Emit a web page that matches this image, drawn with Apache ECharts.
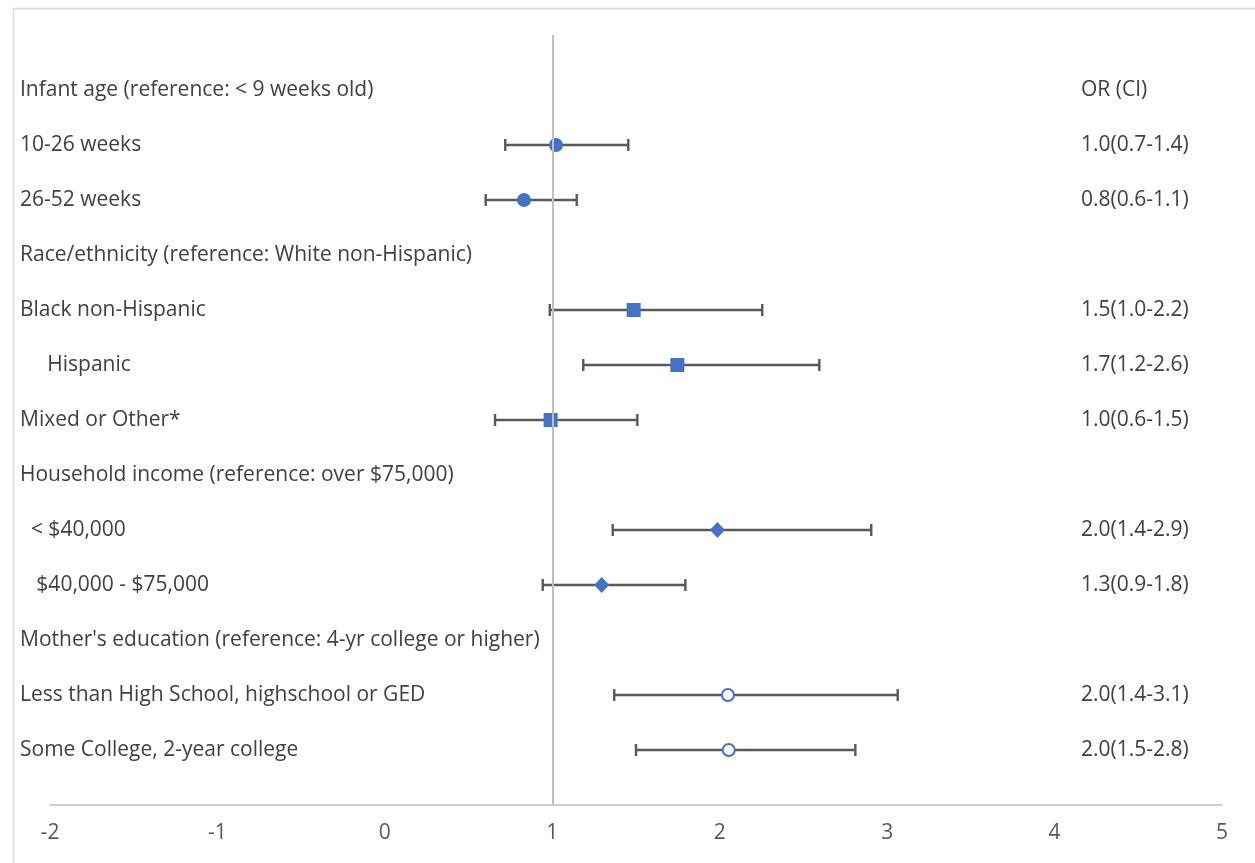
<!DOCTYPE html>
<html><head><meta charset="utf-8">
<script src="https://cdn.jsdelivr.net/npm/echarts@6/dist/echarts.min.js"></script>
<style>html,body{margin:0;padding:0;background:#fff}#c{width:1255px;height:863px}</style>
</head><body><div id="c"></div>
<script>
// Row labels (row 1..13, top to bottom)
const rowLabels = [
  "Infant age (reference: < 9 weeks old)",
  "10-26 weeks",
  "26-52 weeks",
  "Race/ethnicity (reference: White non-Hispanic)",
  "Black non-Hispanic",
  "     Hispanic",
  "Mixed or Other*",
  "Household income (reference: over $75,000)",
  "  < $40,000",
  "   $40,000 - $75,000",
  "Mother's education (reference: 4-yr college or higher)",
  "Less than High School, highschool or GED",
  "Some College, 2-year college"
];
const orLabels = [
  "OR (CI)", "1.0(0.7-1.4)", "0.8(0.6-1.1)", "", "1.5(1.0-2.2)", "1.7(1.2-2.6)",
  "1.0(0.6-1.5)", "", "2.0(1.4-2.9)", "1.3(0.9-1.8)", "", "2.0(1.4-3.1)", "2.0(1.5-2.8)"
];
const xTicks = [-2, -1, 0, 1, 2, 3, 4, 5];

// Estimates: [row, OR, lower, upper]
const ageRows = [[2, 1.022, 0.719, 1.454], [3, 0.831, 0.602, 1.146]];
const raceRows = [[5, 1.486, 0.985, 2.254], [6, 1.747, 1.185, 2.595], [7, 0.990, 0.658, 1.508]];
const incomeRows = [[9, 1.986, 1.361, 2.905], [10, 1.295, 0.943, 1.795]];
const eduRows = [[12, 2.049, 1.370, 3.063], [13, 2.054, 1.500, 2.810]];

const allRows = ageRows.concat(raceRows, incomeRows, eduRows);
const blue = '#4472C4';
const font = '"Open Sans", Lato, sans-serif';
const fs = 21;

const chart = echarts.init(document.getElementById('c'));
const pts = rows => rows.map(r => [r[1], r[0]]);

chart.setOption({
  animation: false,
  backgroundColor: '#fff',
  graphic: [{
    type: 'rect', left: 11, top: 6, silent: true,
    shape: { width: 1300, height: 900 },
    style: { fill: 'none', stroke: '#d9d9d9', lineWidth: 1.5 }
  }],
  grid: { left: 50, right: 33, top: 35, bottom: 58 },
  xAxis: {
    type: 'value', min: -2, max: 5, interval: 1, position: 'bottom',
    axisLine: { show: true, onZero: false, lineStyle: { color: '#bfbfbf', width: 1.5 } },
    axisTick: { show: false },
    splitLine: { show: false },
    axisLabel: { color: '#595959', fontSize: 21, fontFamily: font, margin: 18,
      formatter: v => xTicks.includes(v) ? String(v) : '' }
  },
  yAxis: [{
    type: 'value', min: 0, max: 14, interval: 1, inverse: true, position: 'left',
    axisLine: { show: false }, axisTick: { show: false }, splitLine: { show: false },
    axisLabel: { color: '#404040', fontSize: fs, fontFamily: font, margin: 30, align: 'left',
      padding: [4, 0, 0, 0],
      formatter: v => (v >= 1 && v <= 13) ? rowLabels[v - 1] : '' }
  }, {
    type: 'value', min: 0, max: 14, interval: 1, inverse: true, position: 'right',
    axisLine: { show: false }, axisTick: { show: false }, splitLine: { show: false },
    axisLabel: { inside: true, color: '#404040', fontSize: fs, fontFamily: font, margin: 141, align: 'left',
      padding: [4, 0, 0, 0],
      formatter: v => (v >= 1 && v <= 13) ? orLabels[v - 1] : '' }
  }],
  series: [
    {
      type: 'scatter', z: 1, data: [],
      markLine: {
        silent: true, symbol: 'none', label: { show: false },
        lineStyle: { color: '#bfbfbf', width: 2, type: 'solid' },
        data: [{ xAxis: 1 }]
      }
    },
    {
      type: 'custom', silent: true, z: 3,
      data: allRows.map(r => [r[0], r[2], r[3]]),
      encode: { x: [1, 2], y: 0 },
      renderItem: function (params, api) {
        const y = api.value(0);
        const a = api.coord([api.value(1), y]);
        const b = api.coord([api.value(2), y]);
        const h = 6;
        const st = { stroke: '#595959', lineWidth: 2.4, fill: 'none' };
        return { type: 'group', children: [
          { type: 'line', shape: { x1: a[0], y1: a[1], x2: b[0], y2: b[1] }, style: st },
          { type: 'line', shape: { x1: a[0], y1: a[1] - h, x2: a[0], y2: a[1] + h }, style: st },
          { type: 'line', shape: { x1: b[0], y1: b[1] - h, x2: b[0], y2: b[1] + h }, style: st }
        ]};
      }
    },
    {
      type: 'scatter', z: 4, symbol: 'circle', symbolSize: 14,
      itemStyle: { color: blue, opacity: 1 }, data: pts(ageRows)
    },
    {
      type: 'scatter', z: 4, symbol: 'rect', symbolSize: 14,
      itemStyle: { color: blue, opacity: 1 }, data: pts(raceRows)
    },
    {
      type: 'scatter', z: 4, symbol: 'diamond', symbolSize: [15, 16],
      itemStyle: { color: blue, opacity: 1 }, data: pts(incomeRows)
    },
    {
      type: 'scatter', z: 4, symbol: 'circle', symbolSize: 12,
      itemStyle: { color: '#fff', borderColor: blue, borderWidth: 2, opacity: 1 }, data: pts(eduRows)
    }
  ]
});
</script></body></html>
